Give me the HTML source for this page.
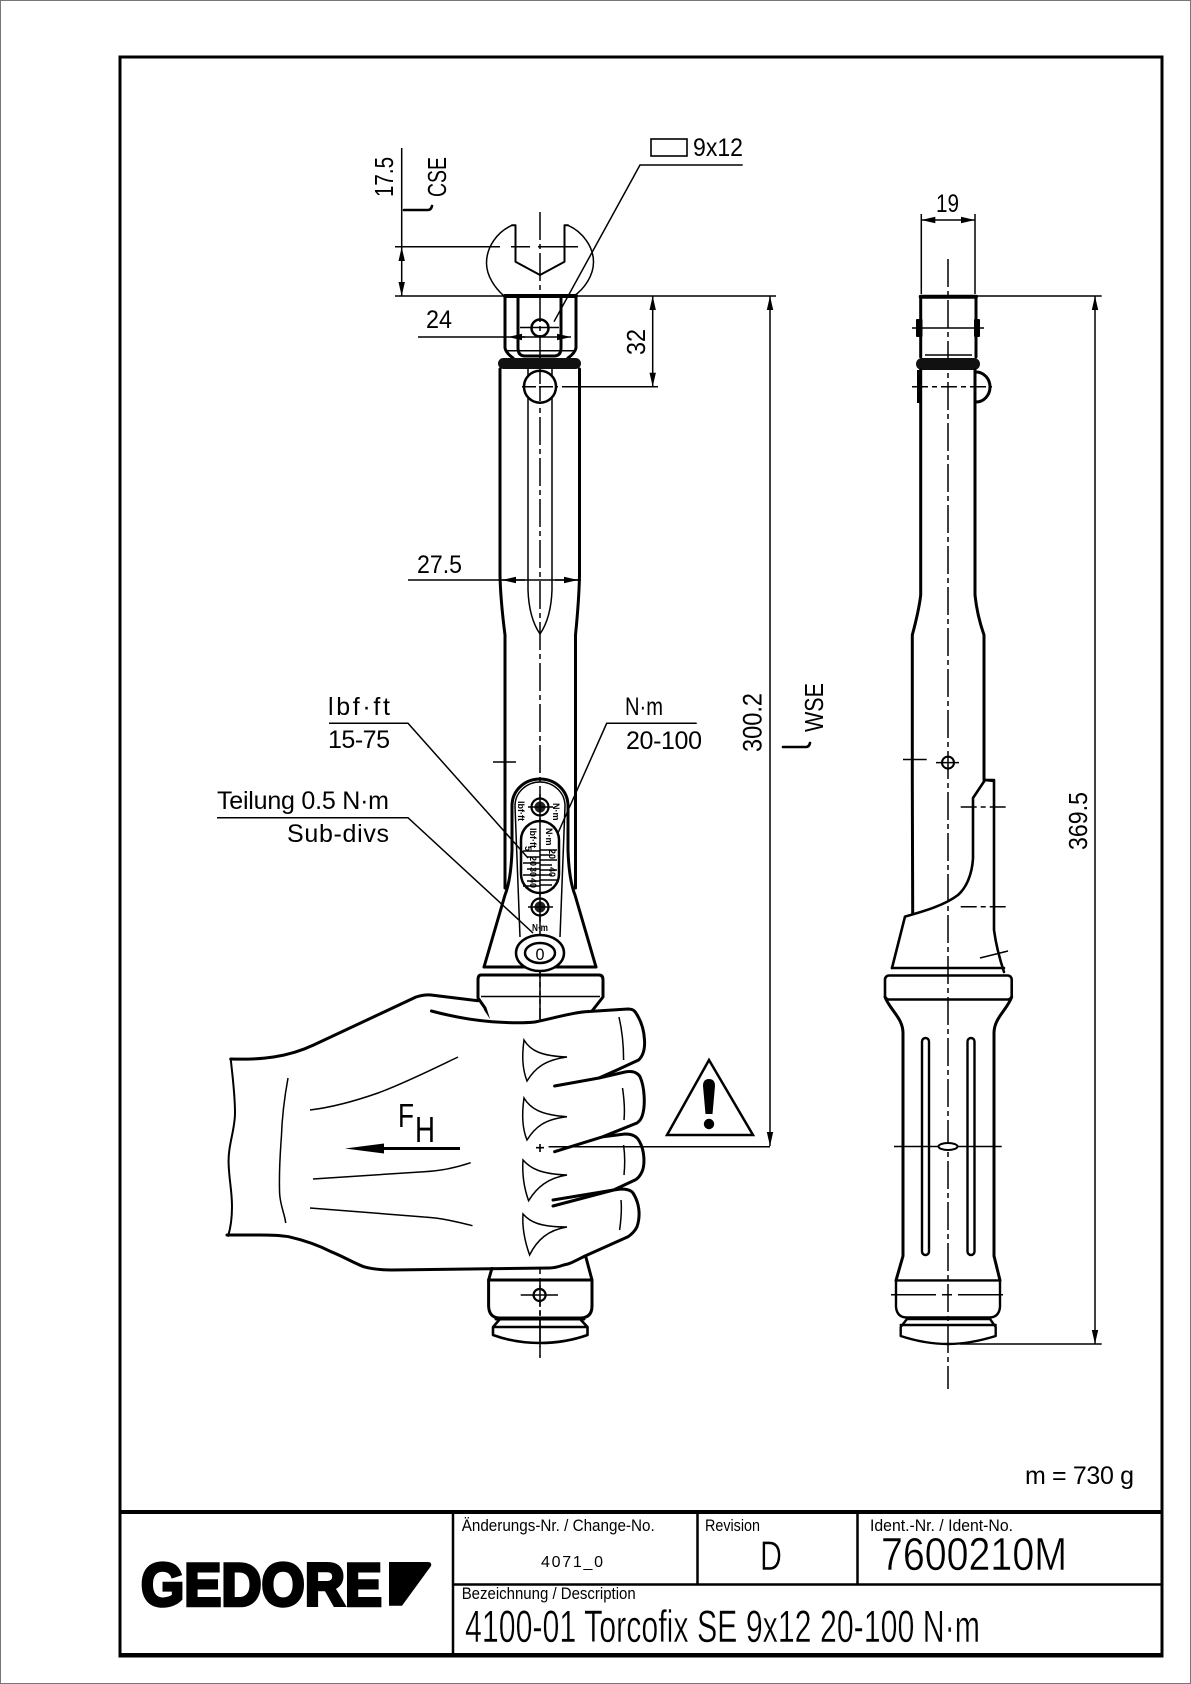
<!DOCTYPE html>
<html><head><meta charset="utf-8"><style>
html,body{margin:0;padding:0;background:#fff}
svg{display:block}
text{font-family:"Liberation Sans",sans-serif;fill:#000}
.k{stroke:#000;stroke-width:3;fill:none;stroke-linejoin:round;stroke-linecap:round}
.m{stroke:#000;stroke-width:2;fill:none;stroke-linejoin:round;stroke-linecap:round}
.t{stroke:#000;stroke-width:1.5;fill:none}
.c{stroke:#000;stroke-width:1.5;fill:none;stroke-dasharray:28 4 5 4}
.l{stroke:#fff;stroke-width:.5}
</style></head><body>
<svg width="1191" height="1684" viewBox="0 0 1191 1684" xmlns="http://www.w3.org/2000/svg">
<defs>
<marker id="a" markerUnits="userSpaceOnUse" markerWidth="16" markerHeight="8" refX="14" refY="4" orient="auto-start-reverse"><path d="M0 .8L14 4L0 7.2Z" fill="#000"/></marker>
</defs>
<rect x="0.5" y="0.5" width="1190" height="1683" fill="#fff" stroke="#777" stroke-width="1"/>
<rect x="120" y="57" width="1042" height="1599" fill="none" stroke="#000" stroke-width="3"/>
<path class="k" d="M120 1512H1162M120 1655H1162" style="stroke-width:4;stroke-linecap:butt"/>
<path class="k" d="M453 1512V1656M453 1584.5H1162M697.5 1512V1584.5M857.5 1512V1584.5" style="stroke-linecap:butt;stroke-width:2.5"/>

<!-- front view centreline -->
<path class="c" d="M540 212V1358"/>

<!-- jaw -->
<path class="t" d="M512 225.3C497 232 486.5 247 486.5 263C486.5 276 495 288 504 296"/>
<path class="t" d="M568 225.3C583 232 593.5 247 593.5 262C593.5 276 584 289 574 296"/>
<path class="m" d="M512 225.3H515.5V261.7L540 275L564.5 261.7V225.3H568"/>
<!-- head -->
<path class="k" d="M505 296H576" style="stroke-width:4"/>
<path class="k" d="M505 296V348Q506 353 513 358M576 296V348Q575 353 568 358"/>
<path class="k" d="M518 296V348Q518 356 525 356H554Q561 356 561 348V296"/>
<path class="t" d="M505 350.7H576M520 327.5H559"/>
<circle cx="540" cy="328" r="8.5" fill="none" stroke="#000" stroke-width="2.5"/>
<rect x="498" y="358" width="83" height="11" rx="5.5" fill="#111"/>
<!-- body -->
<path class="k" d="M500 369V575Q500.5 600 505 635V888"/>
<path class="k" d="M579.5 369V575Q579 600 575.5 635V888"/>
<path class="t" d="M528 369V590Q529 618 540 634Q551 618 552 590V369"/>
<circle cx="540" cy="386.7" r="16" fill="#fff" stroke="#000" stroke-width="2.5"/>
<path class="t" d="M522 386.7H558M540 370V404" stroke-dasharray="14 3"/>
<path class="t" d="M493 762H516"/>

<!-- dims front top -->
<path class="t" d="M401.7 148V246M395 246.7H500M511 246.7H530M538 246.7H578M395 296H776"/>
<path class="t" d="M401.7 247V296" marker-start="url(#a)" marker-end="url(#a)"/>
<text x="393" y="197" font-size="26" textLength="40" lengthAdjust="spacingAndGlyphs" transform="rotate(-90 393 197)">17.5</text>
<text x="446" y="197" font-size="26" textLength="40" lengthAdjust="spacingAndGlyphs" transform="rotate(-90 446 197)">CSE</text>
<path class="m" d="M404 210H428Q431 210 432 206" style="stroke-width:2.6"/>
<rect x="651" y="139" width="36" height="17" fill="none" stroke="#000" stroke-width="1.6"/>
<text x="693" y="156" font-size="25" textLength="50" lengthAdjust="spacingAndGlyphs">9x12</text>
<path class="t" d="M742.7 165H640L554 321.7"/>
<text x="426" y="328" font-size="25" textLength="26" lengthAdjust="spacingAndGlyphs">24</text>
<path class="t" d="M418 337H508"/>
<path class="t" d="M516 337H571" marker-end="url(#a)"/>
<path class="t" d="M525 337H508" marker-end="url(#a)"/>
<path class="t" d="M562 386.7H658"/>
<path class="t" d="M652.7 296V386.7" marker-start="url(#a)" marker-end="url(#a)"/>
<text x="645" y="355" font-size="26" textLength="26" lengthAdjust="spacingAndGlyphs" transform="rotate(-90 645 355)">32</text>
<path class="t" d="M770 296V1146" marker-start="url(#a)" marker-end="url(#a)"/>
<text x="761.7" y="752" font-size="27" textLength="59" lengthAdjust="spacingAndGlyphs" transform="rotate(-90 761.7 752)">300.2</text>
<path class="m" d="M783 747H806Q809 747 810 743" style="stroke-width:2.6"/>
<text x="823" y="732" font-size="26" textLength="49" lengthAdjust="spacingAndGlyphs" transform="rotate(-90 823 732)">WSE</text>
<text x="417" y="573" font-size="25" textLength="45" lengthAdjust="spacingAndGlyphs">27.5</text>
<path class="t" d="M408 580H581"/>
<path class="t" d="M525 580H502" marker-end="url(#a)"/>
<path class="t" d="M555 580H578" marker-end="url(#a)"/>

<!-- cone and collar -->
<path class="k" d="M512 850Q511 880 505 895L484 967M568 850Q569 880 575 895L596 967"/>
<path class="k" d="M512 850V806C512 790 525 779 540 779C555 779 568 790 568 806V850"/>
<path class="t" d="M515 806C515 792 527 782 540 782C553 782 565 792 565 806L560 937M515 806L520 937"/>
<path class="k" d="M484 967H596"/>
<path class="k" d="M481 975H599Q603 975 603 980V997L592 1011L584 1030H492L485 1008L478 998V980Q478 975 481 975Z" fill="#fff"/>
<path class="t" d="M481 996.5H600"/>
<path class="c" d="M540 967V1030"/>

<!-- window -->
<rect x="521" y="821" width="38" height="72" rx="19" fill="#fff" stroke="#000" stroke-width="2.5"/>
<path class="t" d="M540 821V893"/>
<path class="t" d="M540 850H557M540 855H552M540 860H557M540 865H552M540 870H557M540 875H552M540 880H557M540 885H552M523 851H540M527 857H540M523 863H540M527 869H540M523 875H540M527 881H540M523 886H540"/>
<g font-weight="bold" font-size="9">
<text x="518" y="801" transform="rotate(90 518 801)">lbf·ft</text>
<text x="553" y="803" transform="rotate(90 553 803)">N·m</text>
<text x="530" y="828" transform="rotate(90 530 828)">lbf·ft</text>
<text x="546" y="828" transform="rotate(90 546 828)">N·m</text>
<text x="549" y="849" transform="rotate(90 549 849)">20</text>
<text x="549" y="867" transform="rotate(90 549 867)">40</text>
<text x="525" y="846" transform="rotate(90 525 846)">5</text>
<text x="530" y="856" transform="rotate(90 530 856)">20</text>
<text x="530" y="867" transform="rotate(90 530 867)">30</text>
<text x="530" y="878" transform="rotate(90 530 878)">40</text>
<text x="532" y="931" font-size="10" textLength="16" lengthAdjust="spacingAndGlyphs">N·m</text>
</g>
<g>
<circle cx="540" cy="807" r="8.5" fill="#fff" stroke="#000" stroke-width="2.2"/>
<circle cx="540" cy="807" r="5.5" fill="#222"/>
<circle cx="540" cy="907" r="8.5" fill="#fff" stroke="#000" stroke-width="2.2"/>
<circle cx="540" cy="907" r="5.5" fill="#222"/>
<path class="t" d="M528 807H553M528 907H553M540 794V820M540 894V922"/>
</g>
<ellipse cx="540" cy="953" rx="24" ry="18" fill="#fff" stroke="#000" stroke-width="2.5"/>
<ellipse cx="540" cy="953" rx="15" ry="10" fill="#fff" stroke="#000" stroke-width="2.5"/>
<text x="535.5" y="960" font-size="17" textLength="9" lengthAdjust="spacingAndGlyphs">0</text>

<!-- leaders -->
<text x="328" y="715" font-size="25" textLength="62" lengthAdjust="spacing">lbf·ft</text>
<text x="328" y="748" font-size="25" textLength="62" lengthAdjust="spacing">15-75</text>
<path class="t" d="M329 723.3H408L528 858"/>
<text x="625" y="715" font-size="25" textLength="38" lengthAdjust="spacingAndGlyphs">N·m</text>
<text x="626" y="749" font-size="25" textLength="76" lengthAdjust="spacing">20-100</text>
<path class="t" d="M696.7 723.3H606.7L558 833"/>
<text x="217" y="809" font-size="25" textLength="172" lengthAdjust="spacing">Teilung 0.5 N·m</text>
<text x="287" y="842" font-size="25" textLength="102" lengthAdjust="spacing">Sub-divs</text>
<path class="t" d="M217 817.7H408L533 933"/>

<!-- lower handle -->
<path class="k" d="M492 1268L488.6 1280V1306Q489 1318 500 1318H580Q592 1318 592 1306V1280L584 1250"/>
<path class="k" d="M488.6 1280H592"/>
<path class="k" d="M496 1319H584" style="stroke-width:3"/>
<path class="k" d="M493 1327H587.5M500 1319L493 1327V1335Q515 1343 540 1343Q565 1343 587.5 1335V1327L580 1319" style="stroke-width:2.6"/>
<circle cx="539.6" cy="1295" r="6" fill="#fff" stroke="#000" stroke-width="2.2"/>
<path class="t" d="M520.7 1295H558"/>
<path class="t" d="M540 1285V1358" stroke-dasharray="22 4 5 4"/>

<!-- hand -->
<path fill="#fff" stroke="none" d="M231 1059C262 1060 285 1057 314 1045L421 996L431 995L478 1001L492 1022L535 1022L585 1012L628 1009L635 1012C642 1025 645 1040 644 1052L640 1073L645 1095L640 1125L644 1158L636 1190L639 1210L628 1237L563 1265L392 1270C350 1268 320 1240 260 1235H227L232 1207L229 1163L235 1113Z"/>
<path class="k" d="M230.7 1059C262 1060 288 1057 313.6 1045L416 997Q424 994.5 431 995L478 1000.7"/>
<path class="k" d="M431.4 1011C450 1016 470 1020 492 1021.7C510 1023 525 1023 535 1022C555 1018 570 1013 585 1011.7L628 1009Q633 1009 635 1011.7C641 1020 644 1030 644.5 1040C645 1048 644 1055 638.6 1060L617 1070L599 1078L554.6 1086"/>
<path class="k" d="M599 1078L625 1072Q636 1070 640 1076.7C645 1088 645 1105 643 1113C642 1118 640 1121 637 1123L603 1136.7L554.6 1151.7"/>
<path class="k" d="M603 1136.7L625 1134Q635 1134 638.6 1140C645 1150 645 1165 642 1171.7C640 1176 637 1179 635 1180L613.6 1190L553 1206"/>
<path class="k" d="M553 1200L613.6 1190L621 1189Q630 1189 633 1193C639 1202 641 1215 637 1226.7C635 1231 632 1234 628 1236.7L585 1256C575 1261 570 1264 563.6 1265C558 1267 553 1268 549 1268L392 1270C380 1270 372 1269 363.6 1266.7C352 1262 342 1256 331 1251.7C318 1245 303 1240 288.6 1236.7C278 1235 268 1235 260 1235H227"/>
<path class="t" d="M230.7 1059C233 1080 235 1095 235 1113C235 1130 228 1145 228.6 1163C229 1180 232 1190 232 1206.7C232 1220 230 1230 227.9 1236.7" style="stroke-width:2"/>
<path class="t" d="M288 1078C284 1100 282 1118 281.4 1136.7C280 1155 279 1175 279.6 1193C280 1205 285 1215 285.7 1223"/>
<path class="t" d="M310 1110C335 1107 358 1100 378 1093C405 1083 435 1068 458 1057"/>
<path class="t" d="M313 1179L424 1171.7C442 1171 458 1167 470.7 1162.7"/>
<path class="t" d="M310 1208L424 1217C442 1218 458 1222 472.5 1225.7"/>
<g class="t">
<path d="M524 1040C530 1050 540 1056 567 1057C545 1060 535 1068 527 1081C522 1068 522 1055 524 1040Z"/>
<path d="M524 1098C530 1108 540 1115 567 1116.7C545 1119 535 1127 527 1140C522 1128 522 1112 524 1098Z"/>
<path d="M523 1160C530 1168 540 1174 567 1175C548 1178 537 1187 528.6 1200.7C524 1188 522 1175 523 1160Z"/>
<path d="M523 1214C530 1222 540 1227 567 1227C548 1230 537 1240 529.6 1255C525 1242 522 1228 523 1214Z"/>
<path d="M619 1017C622 1030 623.6 1045 623.6 1060M622.5 1088C624 1098 625 1110 624 1120M623.6 1145C625 1155 625 1165 624 1175M621 1200C622 1210 621 1220 619.6 1230"/>
</g>
<text x="398" y="1127" font-size="33" textLength="16" lengthAdjust="spacingAndGlyphs">F</text>
<text x="415" y="1142" font-size="36" textLength="20" lengthAdjust="spacingAndGlyphs">H</text>
<path d="M345 1148.5L384 1143.5V1147H460V1150H384V1153.5Z" fill="#000"/>
<path class="t" d="M536 1147.7H544M540 1144V1152" style="stroke-width:1.6"/>
<path class="t" d="M548.6 1146.7H770"/>
<path d="M709 1060L753 1135H667Z" fill="#fff" stroke="#000" stroke-width="2.5" stroke-linejoin="miter"/>
<path d="M703 1086Q703 1079 709 1079Q715 1079 715 1086L712.5 1114H705.5Z" fill="#000"/>
<circle cx="709" cy="1124" r="5.2" fill="#000"/>

<!-- side view -->
<path class="c" d="M948 259V1389"/>
<path class="t" d="M921.3 214V294M975 214V294"/>
<path class="t" d="M921.3 220H975" marker-start="url(#a)" marker-end="url(#a)"/>
<text x="936" y="212" font-size="25" textLength="23" lengthAdjust="spacingAndGlyphs">19</text>
<path class="k" d="M920.7 296.7H976" style="stroke-width:4"/>
<path class="k" d="M920.7 296.7V357M976 296.7V357"/>
<path class="t" d="M925 355H972M912 328H984"/>
<rect x="916" y="319" width="6.5" height="18" rx="1" fill="#000"/>
<rect x="974" y="319" width="6" height="18" rx="1" fill="#000"/>
<rect x="916" y="358" width="64" height="12" rx="6" fill="#111"/>
<rect x="917" y="370" width="4.5" height="33" fill="#000"/>
<path class="k" d="M976 372A14 15 0 0 1 976 402"/>
<path class="c" d="M912 386.7H992" style="stroke-dasharray:16 4 5 4"/>
<path class="k" d="M920.7 370V595Q919 610 912.3 635V780L912.7 914"/>
<path class="k" d="M975 370V595Q977 615 984 635V780"/>
<path class="t" d="M903 759.5H926.7M936 762.6H959"/>
<circle cx="948" cy="762.6" r="6" fill="none" stroke="#000" stroke-width="2"/>
<path class="m" d="M994 780H985L973 798V858.6C972 875 966 888 958 895C945 905 925 911 905 916.6L892 968" style="stroke-width:2.6"/>
<path class="m" d="M985 780L994 781V930C996 945 1000 960 1004 972" style="stroke-width:2.6"/>
<path class="c" d="M960.7 807H1006.7M960.7 906.8H1006.7" style="stroke-dasharray:16 4 5 4"/>
<path class="t" d="M980 958L1008 951"/>
<path class="k" d="M892 968H1004" style="stroke-width:2.6"/>
<rect x="885" y="975.5" width="126.7" height="24" rx="4" fill="none" stroke="#000" stroke-width="2.6"/>
<path class="k" d="M885 997C890 1010 903 1018 903 1033V1256L896 1280.4M1011.7 997C1007 1010 994 1018 994 1033V1256L1000 1280.4"/>
<rect x="922" y="1038" width="7" height="217" rx="3.5" fill="none" stroke="#000" stroke-width="2.4"/>
<rect x="967.5" y="1038" width="7" height="217" rx="3.5" fill="none" stroke="#000" stroke-width="2.4"/>
<path class="t" d="M894 1146.5H1001.7"/>
<ellipse cx="948" cy="1146.5" rx="9.5" ry="3.5" fill="#fff" stroke="#000" stroke-width="2"/>
<path class="k" d="M896 1280.4H1000V1307Q999 1317.5 989 1317.5H907Q897 1317.5 896 1307Z" style="stroke-width:2.4"/>
<path class="k" d="M907 1319H990L995.7 1327V1336Q970 1344 948 1344Q925 1344 900.7 1336V1327L907 1319M900.7 1325H995.7" style="stroke-width:2.4"/>
<path class="c" d="M891 1294.7H1006" style="stroke-dasharray:45 6 10 6"/>
<path class="t" d="M977 296H1101.7M960 1344H1101.7"/>
<path class="t" d="M1095 296V1344" marker-start="url(#a)" marker-end="url(#a)"/>
<text x="1087" y="850" font-size="26" textLength="58" lengthAdjust="spacingAndGlyphs" transform="rotate(-90 1087 850)">369.5</text>

<!-- title block -->
<text x="1025" y="1484" font-size="25" textLength="109" lengthAdjust="spacing">m = 730 g</text>
<text x="141" y="1605.5" font-size="60" font-weight="bold" stroke="#000" stroke-width="3.5" textLength="241" lengthAdjust="spacingAndGlyphs">GEDORE</text>
<path d="M389 1562H428Q432 1562 431 1566L402 1605.7H389Z" fill="#000"/>
<text x="461.7" y="1531" font-size="17" textLength="193" lengthAdjust="spacingAndGlyphs">Änderungs-Nr. / Change-No.</text>
<text x="541" y="1567" font-size="16" textLength="62" lengthAdjust="spacing">4071_0</text>
<text x="705" y="1531" font-size="17" textLength="55" lengthAdjust="spacingAndGlyphs">Revision</text>
<text class="l" x="760" y="1570" font-size="42" textLength="22" lengthAdjust="spacingAndGlyphs">D</text>
<text x="870" y="1531" font-size="17" textLength="143" lengthAdjust="spacingAndGlyphs">Ident.-Nr. / Ident-No.</text>
<text class="l" x="881" y="1570" font-size="46" textLength="186" lengthAdjust="spacingAndGlyphs">7600210M</text>
<text x="461.7" y="1599" font-size="17" textLength="174" lengthAdjust="spacingAndGlyphs">Bezeichnung / Description</text>
<text class="l" x="465" y="1642" font-size="45" textLength="515" lengthAdjust="spacingAndGlyphs">4100-01 Torcofix SE 9x12 20-100 N·m</text>
</svg>
</body></html>
